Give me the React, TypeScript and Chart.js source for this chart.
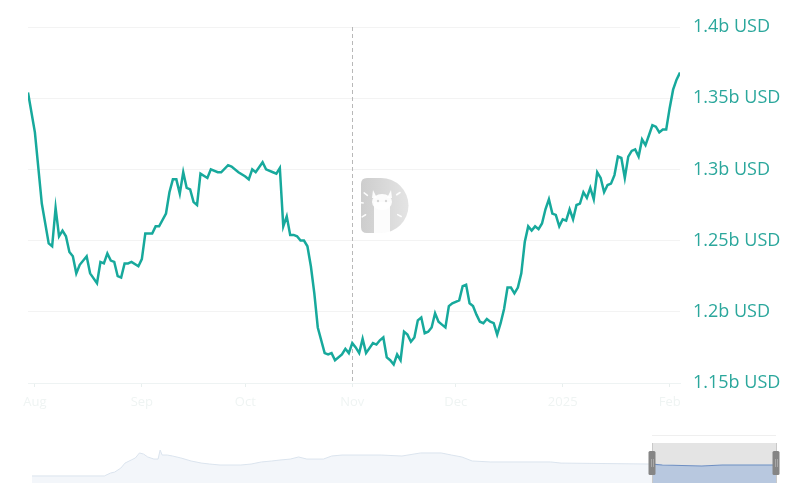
import { useEffect, useRef } from 'react';
import { Chart, registerables } from 'chart.js';
Chart.register(...registerables);

// Days since 2024-08-01 and TVL in billions USD
const days = [-2,0,2,4,5,6,7,8,9,10,11,12,13,15,16,18,19,20,21,22,23,24,25,26,27,28,30,31,32,34,35,36,38,39,40,41,42,43,44,45,46,47,48,50,51,53,54,56,57,59,61,62,63,64,66,67,69,70,71,72,73,74,75,76,77,78,79,80,81,82,84,85,86,87,89,90,91,92,93,94,95,96,98,99,100,101,102,103,104,105,106,107,108,109,110,111,112,113,114,115,116,117,118,119,120,121,123,124,125,126,127,128,129,130,131,132,133,134,135,136,137,138,139,140,141,142,143,144,145,146,147,148,149,150,151,152,153,154,155,156,157,158,159,160,161,162,163,164,165,166,167,168,169,170,171,172,173,174,175,176,177,178,179,180,181,182,183,184,185,186,187];
const tvlB = [1.354,1.326,1.276,1.248,1.246,1.273,1.253,1.257,1.253,1.242,1.239,1.227,1.233,1.239,1.227,1.220,1.235,1.234,1.241,1.236,1.235,1.225,1.224,1.234,1.234,1.235,1.232,1.237,1.255,1.255,1.260,1.260,1.269,1.284,1.293,1.293,1.283,1.298,1.287,1.286,1.277,1.275,1.297,1.294,1.300,1.298,1.298,1.303,1.302,1.298,1.295,1.293,1.300,1.298,1.305,1.300,1.298,1.297,1.301,1.260,1.267,1.254,1.254,1.253,1.250,1.250,1.246,1.232,1.213,1.189,1.171,1.170,1.171,1.166,1.170,1.174,1.171,1.178,1.175,1.171,1.181,1.171,1.178,1.177,1.180,1.182,1.168,1.166,1.163,1.170,1.166,1.186,1.184,1.179,1.182,1.194,1.196,1.185,1.186,1.189,1.199,1.193,1.191,1.189,1.204,1.206,1.208,1.218,1.219,1.206,1.204,1.198,1.193,1.192,1.195,1.193,1.192,1.184,1.192,1.202,1.217,1.217,1.213,1.217,1.227,1.249,1.260,1.257,1.260,1.258,1.262,1.272,1.279,1.269,1.268,1.260,1.265,1.264,1.272,1.265,1.275,1.276,1.284,1.280,1.287,1.279,1.298,1.294,1.284,1.289,1.290,1.296,1.309,1.308,1.294,1.309,1.313,1.314,1.309,1.321,1.317,1.324,1.331,1.330,1.326,1.328,1.328,1.343,1.356,1.363,1.368];

const monthTickDays = [0, 31, 61, 92, 122, 153, 184];
const monthTickLabels = ['Aug', 'Sep', 'Oct', 'Nov', 'Dec', '2025', 'Feb'];
const yTickValues = [1.15, 1.2, 1.25, 1.3, 1.35, 1.4];
const yTickLabels = ['1.15b USD', '1.2b USD', '1.25b USD', '1.3b USD', '1.35b USD', '1.4b USD'];
const hoverDay = 92;

// Navigator: months since Feb 2022, TVL in billions USD
const navMonths = [0,3.5,3.8,4.0,4.3,4.5,4.8,5.0,5.2,5.4,5.6,5.9,6.1,6.2,6.3,6.55,6.8,7.2,7.7,8.2,8.6,9.1,10.1,10.6,11.1,11.6,12.0,12.5,12.9,13.3,14.1,14.5,15.0,16.9,17.9,18.8,19.8,20.3,20.8,21.3,22.2,25.1,25.6,30.0,30.5,32.4,33.4,36];
const navTvlB = [0.51,0.51,0.72,0.79,1.08,1.44,1.66,1.81,2.17,2.09,1.88,1.73,1.73,2.38,2.02,2.02,1.95,1.81,1.59,1.44,1.37,1.30,1.30,1.37,1.52,1.59,1.66,1.73,1.88,1.73,1.73,1.95,2.02,2.02,1.95,2.17,2.17,2.02,1.88,1.59,1.52,1.52,1.44,1.37,1.30,1.23,1.30,1.30];
const navSelection = [30, 36];

const LINE = '#17a99c';
const FONT = "'Open Sans', sans-serif";

const mainPlugin = {
  id: 'mainDecor',
  beforeDatasetsDraw(chart: any) {
    const { ctx, chartArea: ca, scales } = chart;
    // watermark
    const left = ca.left + 333, top = ca.top + 151, bottom = ca.top + 206;
    const cy = (top + bottom) / 2, r = (bottom - top) / 2, cx = left + 20;
    ctx.save();
    const g = ctx.createLinearGradient(left, 0, cx + r, 0);
    g.addColorStop(0, '#cdcdcd');
    g.addColorStop(1, '#e4e4e4');
    ctx.fillStyle = g;
    ctx.beginPath();
    ctx.moveTo(left + 6, top);
    ctx.lineTo(cx, top);
    ctx.arc(cx, cy, r, -Math.PI / 2, Math.PI / 2);
    ctx.lineTo(left + 6, bottom);
    ctx.quadraticCurveTo(left, bottom, left, bottom - 6);
    ctx.lineTo(left, top + 6);
    ctx.quadraticCurveTo(left, top, left + 6, top);
    ctx.closePath();
    ctx.fill();
    // llama
    ctx.fillStyle = 'rgba(255,255,255,0.92)';
    const hx = cx + 1, hy = top + 24;
    ctx.beginPath();
    ctx.moveTo(hx - 9, hy - 12); ctx.lineTo(hx - 5, hy - 4); ctx.lineTo(hx - 10, hy - 4); ctx.closePath(); ctx.fill();
    ctx.beginPath();
    ctx.moveTo(hx + 9, hy - 12); ctx.lineTo(hx + 5, hy - 4); ctx.lineTo(hx + 10, hy - 4); ctx.closePath(); ctx.fill();
    ctx.beginPath();
    ctx.ellipse(hx, hy, 10, 8, 0, 0, Math.PI * 2);
    ctx.fill();
    ctx.fillRect(hx - 8, hy, 16, bottom - hy);
    ctx.fillStyle = '#d8d8d8';
    ctx.beginPath(); ctx.arc(hx - 4, hy - 1, 1.2, 0, Math.PI * 2); ctx.fill();
    ctx.beginPath(); ctx.arc(hx + 4, hy - 1, 1.2, 0, Math.PI * 2); ctx.fill();
    ctx.strokeStyle = 'rgba(255,255,255,0.9)';
    ctx.lineWidth = 1.6;
    ctx.lineCap = 'round';
    const rays = [[-2.5, 17, 21], [-3.0, 18, 22], [2.6, 18, 22], [-0.6, 19, 23], [0.5, 19, 23]];
    rays.forEach(([a, r1, r2]) => {
      ctx.beginPath();
      ctx.moveTo(cx + Math.cos(a) * r1, cy + Math.sin(a) * r1);
      ctx.lineTo(cx + Math.cos(a) * r2, cy + Math.sin(a) * r2);
      ctx.stroke();
    });
    // hover line
    const x = scales.x.getPixelForValue(hoverDay);
    ctx.strokeStyle = '#b8b8b8';
    ctx.lineWidth = 1;
    ctx.lineCap = 'butt';
    ctx.setLineDash([4, 3]);
    ctx.beginPath();
    ctx.moveTo(Math.round(x) + 0.5, ca.top);
    ctx.lineTo(Math.round(x) + 0.5, ca.bottom);
    ctx.stroke();
    ctx.restore();
  },
};

const navPlugin = {
  id: 'navDecor',
  beforeDatasetsDraw(chart: any) {
    const { ctx, chartArea: ca, scales } = chart;
    const x0 = scales.x.getPixelForValue(navSelection[0]);
    const x1 = scales.x.getPixelForValue(navSelection[1]);
    ctx.save();
    ctx.fillStyle = '#e4e4e4';
    ctx.fillRect(x0, ca.top, x1 - x0, ca.bottom - ca.top);
    ctx.strokeStyle = '#efefef';
    ctx.lineWidth = 1;
    ctx.beginPath();
    ctx.moveTo(x0, ca.top - 7.5);
    ctx.lineTo(x1, ca.top - 7.5);
    ctx.stroke();
    ctx.restore();
  },
  afterDatasetsDraw(chart: any) {
    const { ctx, chartArea: ca, scales } = chart;
    const x0 = scales.x.getPixelForValue(navSelection[0]);
    const x1 = scales.x.getPixelForValue(navSelection[1]);
    const pts = chart.getDatasetMeta(0).data;
    ctx.save();
    ctx.beginPath();
    ctx.rect(x0, ca.top, x1 - x0, ca.bottom - ca.top);
    ctx.clip();
    ctx.beginPath();
    pts.forEach((p: any, i: number) => (i === 0 ? ctx.moveTo(p.x, p.y) : ctx.lineTo(p.x, p.y)));
    ctx.lineTo(pts[pts.length - 1].x, ca.bottom);
    ctx.lineTo(pts[0].x, ca.bottom);
    ctx.closePath();
    ctx.fillStyle = '#b8c8df';
    ctx.fill();
    ctx.beginPath();
    pts.forEach((p: any, i: number) => (i === 0 ? ctx.moveTo(p.x, p.y) : ctx.lineTo(p.x, p.y)));
    ctx.strokeStyle = '#6f8fc2';
    ctx.lineWidth = 1.2;
    ctx.stroke();
    ctx.restore();
    ctx.save();
    ctx.strokeStyle = '#c9c9c9';
    ctx.lineWidth = 1;
    [x0, x1].forEach((x) => {
      ctx.beginPath();
      ctx.moveTo(Math.round(x) + 0.5, ca.top);
      ctx.lineTo(Math.round(x) + 0.5, ca.bottom);
      ctx.stroke();
    });
    [x0, x1].forEach((x) => {
      ctx.fillStyle = '#858585';
      const w = 7, h = 24, y = ca.top + 8;
      ctx.beginPath();
      ctx.roundRect(x - w / 2, y, w, h, 1.5);
      ctx.fill();
      ctx.strokeStyle = '#a8a8a8';
      ctx.beginPath();
      ctx.moveTo(x - 0.5, y + 8); ctx.lineTo(x - 0.5, y + 16);
      ctx.moveTo(x + 1.5, y + 8); ctx.lineTo(x + 1.5, y + 16);
      ctx.stroke();
    });
    ctx.restore();
  },
};

export default function App() {
  const mainRef = useRef<HTMLCanvasElement>(null);
  const navRef = useRef<HTMLCanvasElement>(null);

  useEffect(() => {
    const main = new Chart(mainRef.current as HTMLCanvasElement, {
      type: 'line',
      data: {
        datasets: [
          {
            data: days.map((d, i) => ({ x: d, y: tvlB[i] })),
            borderColor: LINE,
            borderWidth: 2.5,
            pointRadius: 0,
            tension: 0,
            fill: false,
          },
        ],
      },
      options: {
        animation: false,
        responsive: false,
        devicePixelRatio: 1,
        layout: { padding: { left: 28, top: 27, right: 0, bottom: 0 } },
        plugins: { legend: { display: false }, tooltip: { enabled: false } },
        scales: {
          x: {
            type: 'linear',
            min: -2,
            max: 187,
            afterBuildTicks: (s: any) => {
              s.ticks = monthTickDays.map((v) => ({ value: v }));
            },
            afterFit: (s: any) => {
              s.height = 37;
            },
            ticks: {
              callback: (_v: any, i: number) => monthTickLabels[i],
              color: '#eff4f3',
              font: { family: FONT, size: 13 },
              padding: 7,
              maxRotation: 0,
              autoSkip: false,
            },
            grid: { drawOnChartArea: false, color: '#e8efee', tickLength: 4 },
            border: { color: '#eef3f3' },
          },
          y: {
            position: 'right',
            min: 1.15,
            max: 1.4,
            afterBuildTicks: (s: any) => {
              s.ticks = yTickValues.map((v) => ({ value: v }));
            },
            afterFit: (s: any) => {
              s.width = 120;
            },
            ticks: {
              callback: (_v: any, i: number) => yTickLabels[i],
              color: '#2ba79c',
              font: { family: FONT, size: 18 },
              padding: 13,
            },
            grid: { color: '#f3f3f3', drawTicks: false },
            border: { display: false },
          },
        },
      },
      plugins: [mainPlugin],
    });

    const nav = new Chart(navRef.current as HTMLCanvasElement, {
      type: 'line',
      data: {
        datasets: [
          {
            data: navMonths.map((m, i) => ({ x: m, y: navTvlB[i] })),
            borderColor: '#dbe4ee',
            borderWidth: 1,
            backgroundColor: '#f3f6fa',
            pointRadius: 0,
            tension: 0,
            fill: 'origin',
          },
        ],
      },
      options: {
        animation: false,
        responsive: false,
        devicePixelRatio: 1,
        layout: { padding: { left: 32, top: 23, right: 24, bottom: 11 } },
        plugins: { legend: { display: false }, tooltip: { enabled: false } },
        scales: {
          x: { type: 'linear', min: 0, max: 36, display: false },
          y: { min: 0, max: 2.89, display: false },
        },
      },
      plugins: [navPlugin],
    });

    return () => {
      main.destroy();
      nav.destroy();
    };
  }, []);

  return (
    <div style={{ position: 'absolute', left: 0, top: 0, width: 800, height: 494, background: '#fff' }}>
      <canvas ref={mainRef} width={800} height={420} style={{ position: 'absolute', left: 0, top: 0, width: 800, height: 420 }} />
      <canvas ref={navRef} width={800} height={74} style={{ position: 'absolute', left: 0, top: 420, width: 800, height: 74 }} />
    </div>
  );
}
